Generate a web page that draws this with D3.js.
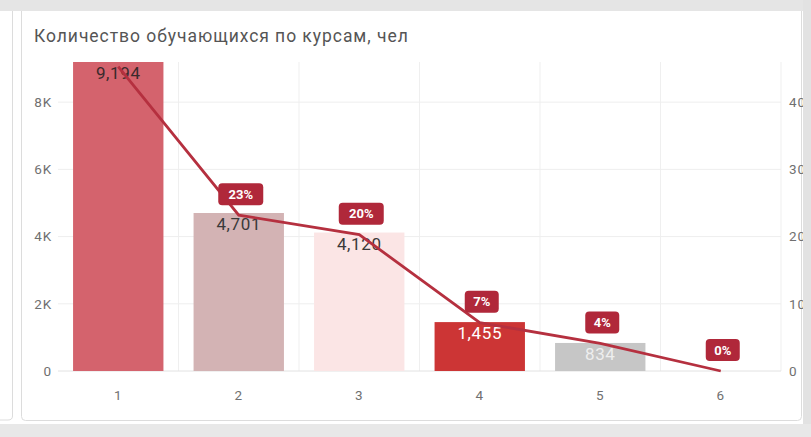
<!DOCTYPE html>
<html>
<head>
<meta charset="utf-8">
<script src="https://cdn.jsdelivr.net/npm/d3@7"></script>
<style>
  body { margin: 0; background: #fff; }
  svg { display: block; font-family: Roboto, "Noto Sans", sans-serif; }
</style>
</head>
<body>
<svg id="chart" width="811" height="437"></svg>
<script>
// данные
const courses = ["1", "2", "3", "4", "5", "6"];
const students = [9194, 4701, 4120, 1455, 834, 0];
const shares = [45.3, 23.2, 20.3, 7.2, 4.1, 0];
const shareLabels = ["45%", "23%", "20%", "7%", "4%", "0%"];
const leftTicks = [0, 2000, 4000, 6000, 8000];
const rightTicks = [0, 10, 20, 30, 40];

const barColors = ["#d4636d", "#d3b3b4", "#fbe5e5", "#cc3535", "#c6c6c6"];
const labelColors = ["#3a2a2c", "#3a3a3a", "#3a3a3a", "#ffffff", "#eeeeee"];
const LINE = "#b5303f";

const W = 811, H = 437;
const plot = { left: 58, right: 781, top: 62, bottom: 371 };

const svg = d3.select("#chart");

// карточка
svg.append("rect").attr("x", 21.5).attr("y", 5).attr("width", 780).attr("height", 415.5)
  .attr("rx", 4).attr("fill", "#fff").attr("stroke", "#dcdcdc");

const x = d3.scaleBand().domain(courses)
  .range([plot.left, plot.right]).paddingInner(0.25).paddingOuter(0.125);
const yL = d3.scaleLinear().domain([0, 9194]).range([plot.bottom, plot.top]);
const yR = d3.scaleLinear().domain([0, 46]).range([plot.bottom, plot.top]);

// сетка
svg.append("g").selectAll("line").data(courses).join("line")
  .attr("x1", d => x(d) + x.bandwidth() + x.step() * x.paddingInner() / 2)
  .attr("x2", d => x(d) + x.bandwidth() + x.step() * x.paddingInner() / 2)
  .attr("y1", plot.top).attr("y2", plot.bottom)
  .attr("stroke", "#efefef");
svg.append("g").selectAll("line").data(leftTicks).join("line")
  .attr("x1", plot.left).attr("x2", plot.right)
  .attr("y1", d => yL(d)).attr("y2", d => yL(d))
  .attr("stroke", d => d === 0 ? "#e2e2e2" : "#eeeeee");

// оси
const fmtK = d => d === 0 ? "0" : (d / 1000) + "K";
const axL = svg.append("g").attr("transform", `translate(${plot.left},0)`)
  .call(d3.axisLeft(yL).tickValues(leftTicks).tickFormat(fmtK).tickSize(0).tickPadding(6));
const axR = svg.append("g").attr("transform", `translate(${plot.right},0)`)
  .call(d3.axisRight(yR).tickValues(rightTicks).tickSize(0).tickPadding(8));
const axB = svg.append("g").attr("transform", `translate(0,${plot.bottom})`)
  .call(d3.axisBottom(x).tickSize(0).tickPadding(19));
[axL, axR, axB].forEach(a => {
  a.select(".domain").remove();
  a.selectAll("text").attr("fill", "#707070").attr("font-size", 13.5)
    .attr("letter-spacing", 0.8)
    .attr("font-family", "Roboto, sans-serif");
});

// столбцы
svg.append("g").selectAll("rect").data(students).join("rect")
  .attr("x", (d, i) => x(courses[i]))
  .attr("y", d => yL(d))
  .attr("width", x.bandwidth())
  .attr("height", d => plot.bottom - yL(d))
  .attr("fill", (d, i) => barColors[i] || "#ccc");

svg.append("g").selectAll("text").data(students).join("text")
  .filter(d => d > 0)
  .attr("x", (d, i) => x(courses[i]) + x.bandwidth() / 2)
  .attr("y", d => yL(d) + 17)
  .attr("text-anchor", "middle")
  .attr("font-size", 17)
  .attr("letter-spacing", 0.6)
  .attr("fill", (d, i) => labelColors[i])
  .text(d => d3.format(",")(d));

// линия доли
const line = d3.line()
  .x((d, i) => x(courses[i]) + x.bandwidth() / 2)
  .y(d => yR(d));
svg.append("path").datum(shares)
  .attr("d", line).attr("fill", "none")
  .attr("stroke", LINE).attr("stroke-width", 2.8);

const tagW = s => s.length * 11 + 12;
const tags = svg.append("g").selectAll("g").data(shares).join("g")
  .filter((d, i) => i > 0)
  .attr("transform", (d, i) => `translate(${x(courses[i + 1]) + x.bandwidth() / 2 + 2},${yR(d) - 21})`);
tags.append("rect")
  .attr("x", (d, i) => -tagW(shareLabels[i + 1]) / 2)
  .attr("y", -11)
  .attr("width", (d, i) => tagW(shareLabels[i + 1]))
  .attr("height", 22).attr("rx", 4).attr("fill", "#b0283a");
tags.append("text")
  .attr("text-anchor", "middle").attr("dy", "0.36em")
  .attr("font-size", 13).attr("font-weight", "bold").attr("fill", "#fff")
  .text((d, i) => shareLabels[i + 1]);

// заголовок
svg.append("text").attr("x", 34).attr("y", 42)
  .attr("font-size", 17.5).attr("letter-spacing", 0.95).attr("fill", "#555")
  .text("Количество обучающихся по курсам, чел");

// рамка скриншота
svg.append("rect").attr("x", 0).attr("y", 0).attr("width", W).attr("height", 11).attr("fill", "#e5e5e5");
svg.append("rect").attr("x", 803).attr("y", 0).attr("width", 8).attr("height", H).attr("fill", "#e2e2e2");
svg.append("rect").attr("x", 0).attr("y", 424).attr("width", W).attr("height", 13).attr("fill", "#e8e8e8");
svg.append("path").attr("d", "M12.5,11 V416 Q12.5,420 8,420 H0")
  .attr("fill", "none").attr("stroke", "#dcdcdc");
</script>
</body>
</html>
